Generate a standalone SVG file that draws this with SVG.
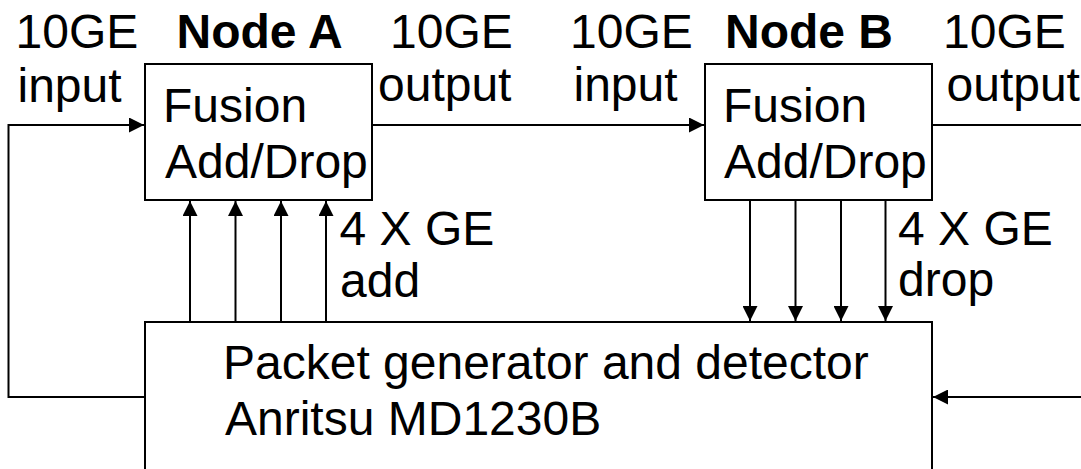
<svg xmlns="http://www.w3.org/2000/svg" width="1081" height="469" viewBox="0 0 1081 469">
  <style>
    .box { fill: #ffffff; stroke: #000000; stroke-width: 2; }
    .wire { fill: none; stroke: #000000; stroke-width: 2; }
    .arr { marker-end: url(#ah); }
    text { font-family: "Liberation Sans", Arial, sans-serif; font-size: 48px; fill: #000000; }
    .bold { font-weight: bold; }
  </style>
  <defs>
    <marker id="ah" markerUnits="userSpaceOnUse" markerWidth="15" markerHeight="15" refX="15" refY="7.5" orient="auto">
      <path d="M0,0 L15,7.5 L0,15 Z" fill="#000000"/>
    </marker>
  </defs>
  <rect width="1081" height="469" fill="#ffffff"/>

  <g id="connectors">
    <path class="wire arr" d="M145,397 H8.5 V125 H144"/>
    <path class="wire arr" d="M372,125 H704"/>
    <path class="wire" d="M932,125 H1081"/>
    <path class="wire arr" d="M1081,397 H933"/>
    <path class="wire arr" d="M190,322 V201"/>
    <path class="wire arr" d="M235.5,322 V201"/>
    <path class="wire arr" d="M281,322 V201"/>
    <path class="wire arr" d="M326,322 V201"/>
    <path class="wire arr" d="M750,200 V321"/>
    <path class="wire arr" d="M795.5,200 V321"/>
    <path class="wire arr" d="M841,200 V321"/>
    <path class="wire arr" d="M885.5,200 V321"/>
  </g>

  <g id="nodeA">
    <rect class="box" x="145" y="64" width="227" height="136"/>
    <text x="163" y="122">Fusion</text>
    <text x="165" y="177.5">Add/Drop</text>
    <text class="bold" x="176.5" y="47.5">Node A</text>
  </g>

  <g id="nodeB">
    <rect class="box" x="705" y="64" width="227" height="136"/>
    <text x="723" y="122">Fusion</text>
    <text x="724" y="177.5">Add/Drop</text>
    <text class="bold" x="725" y="47.5">Node B</text>
  </g>

  <g id="packet-generator">
    <rect class="box" x="145" y="322" width="787" height="170"/>
    <text x="223" y="378.5">Packet generator and detector</text>
    <text x="225" y="435">Anritsu MD1230B</text>
  </g>

  <g id="labels">
    <text x="15.5" y="47.5">10GE</text>
    <text x="17.5" y="101.5">input</text>
    <text x="390" y="47.5">10GE</text>
    <text x="378" y="101">output</text>
    <text x="570" y="47.5">10GE</text>
    <text x="573.5" y="101">input</text>
    <text x="943" y="47.5">10GE</text>
    <text x="946.5" y="101">output</text>
    <text x="339.5" y="245">4 X GE</text>
    <text x="340" y="297">add</text>
    <text x="898" y="245">4 X GE</text>
    <text x="898" y="296">drop</text>
  </g>
</svg>
